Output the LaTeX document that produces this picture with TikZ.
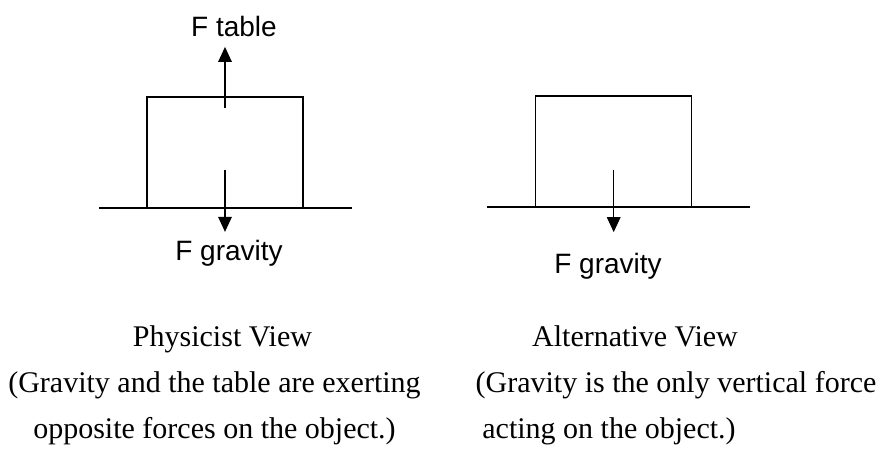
\documentclass[tikz,border=0pt]{standalone}
\usepackage{fontspec}
\setmainfont{Liberation Serif}
\setsansfont{Liberation Sans}
\usepackage{tikz}
\usetikzlibrary{positioning,calc,arrows.meta}

\begin{document}
\begin{tikzpicture}[
    x=1pt,y=-1pt,
    block/.style={draw=black,line width=1.4pt,rectangle,minimum width=156pt,
                  minimum height=111pt,inner sep=0pt,outer sep=0pt},
    ground/.style={draw=black,line width=1.8pt},
    force/.style={draw=black,line width=1.4pt,
                  -{Triangle[length=15pt,width=13.5pt]}},
    forcelabel/.style={font=\sffamily\fontsize{28}{34}\selectfont,
                       inner sep=0pt,anchor=base},
    caption/.style={font=\rmfamily\fontsize{30}{36}\selectfont,
                    inner sep=0pt,anchor=base}
]
  \useasboundingbox (0,0) rectangle (879,457);

  % Physicist view: table pushes up, gravity pulls down.
  \node[block] (leftbox) at (225,152.4) {};
  \coordinate (lgroundA) at (99,208);
  \coordinate (lgroundB) at (352,208);
  \draw[ground] (lgroundA) -- (lgroundB);

  \coordinate (uptail) at ($(leftbox.north)+(0,11)$);
  \coordinate (uptip)  at ($(leftbox.north)+(0,-50)$);
  \coordinate (dntail) at ($(leftbox.north)+(0,73)$);
  \coordinate (dntip)  at ($(leftbox.north)+(0,135)$);
  \draw[force] (uptail) -- (uptip);
  \draw[force] (dntail) -- (dntip);

  \node[forcelabel] (ftable)  at (234,37)  {F table};
  \node[forcelabel] (fgravL)  at (229,261) {F gravity};

  % Alternative view: only gravity.
  \node[block] (rightbox) at (613.7,151.7) {};
  \coordinate (rgroundA) at (487,207.3);
  \coordinate (rgroundB) at (750,207.3);
  \draw[ground] (rgroundA) -- (rgroundB);

  \coordinate (rtail) at ($(rightbox.north)+(0,74)$);
  \coordinate (rtip)  at ($(rightbox.north)+(0,136)$);
  \draw[force] (rtail) -- (rtip);

  \node[forcelabel] (fgravR) at (608,274) {F gravity};

  % Captions under both views.
  \node[caption] (physview) at (222.5,347) {Physicist View};
  \node[caption] (physline) at (214.5,392.5) {(Gravity and the table are exerting};
  \node[caption] (physend)  at (214.5,438) {opposite forces on the object.)};

  \node[caption] (altview) at (635,347) {Alternative View};
  \node[caption] (altline) at (676,392.5) {(Gravity is the only vertical force};
  \node[caption] (altend)  at (609,438) {acting on the object.)};
\end{tikzpicture}
\end{document}
